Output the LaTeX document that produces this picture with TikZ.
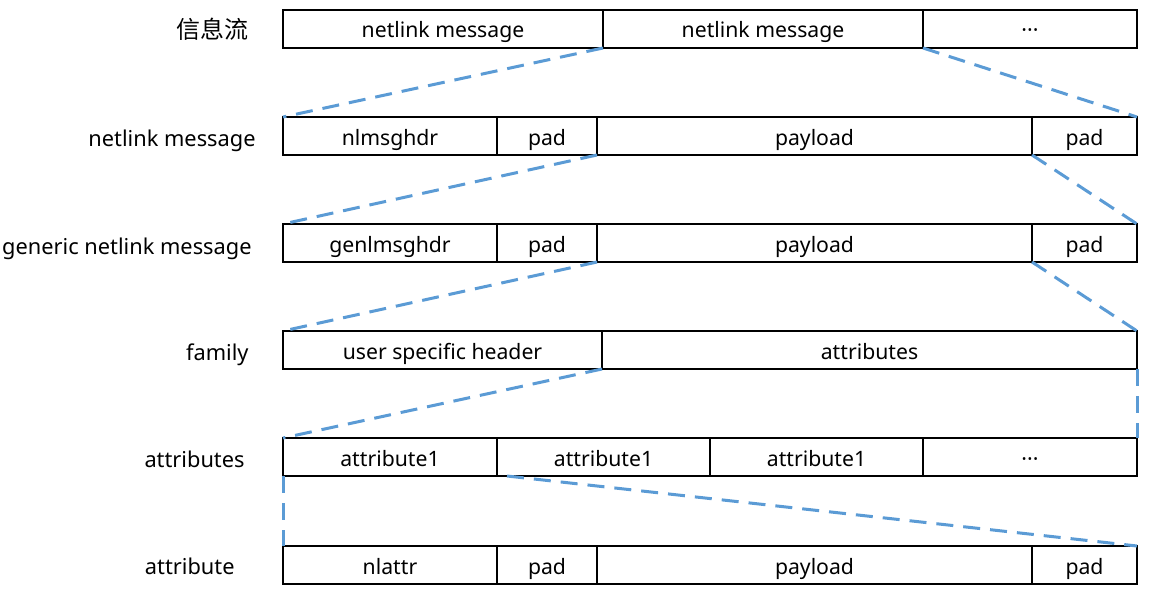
\documentclass[tikz,border=0pt]{standalone}
\usepackage{fontspec}
\setmainfont{Noto Sans}
\newfontfamily\cjk{Noto Sans CJK SC}
\usetikzlibrary{positioning}
\definecolor{linkblue}{HTML}{5B9BD5}

\begin{document}
\begin{tikzpicture}[x=0.5pt,y=-0.5pt,font=\fontsize{10.6}{12}\selectfont,
  cell/.style={draw,line width=0.6pt,minimum height=19pt,inner sep=0pt,outer sep=0pt,
    text height=10pt,text depth=1pt,anchor=west},
  rowlabel/.style={anchor=base east,inner sep=0pt,font=\fontsize{10.9}{12}\selectfont},
  link/.style={draw=linkblue,line width=1.5pt,dash pattern=on 8.5pt off 5pt}]
 \useasboundingbox (0,0) rectangle (1154,599);
 % rows of cells
 \node[cell,minimum width=160pt] (msg1) at (283,29) {netlink message};
 \node[cell,minimum width=160pt,right=0pt of msg1] (msg2) {netlink message};
 \node[cell,minimum width=107pt,right=0pt of msg2] (msg3) {\textperiodcentered\textperiodcentered\textperiodcentered};

 \node[cell,minimum width=107pt] (nlhdr) at (283,136) {nlmsghdr};
 \node[cell,minimum width=50pt,right=0pt of nlhdr] (nlpad) {pad};
 \node[cell,minimum width=217.5pt,right=0pt of nlpad] (nlpay) {payload};
 \node[cell,minimum width=52.5pt,right=0pt of nlpay] (nlpadb) {pad};

 \node[cell,minimum width=107pt] (genhdr) at (283,243) {genlmsghdr};
 \node[cell,minimum width=50pt,right=0pt of genhdr] (genpad) {pad};
 \node[cell,minimum width=217.5pt,right=0pt of genpad] (genpay) {payload};
 \node[cell,minimum width=52.5pt,right=0pt of genpay] (genpadb) {pad};

 \node[cell,minimum width=159.5pt] (famhdr) at (283,350) {user specific header};
 \node[cell,minimum width=267.5pt,right=0pt of famhdr] (famattr) {attributes};

 \node[cell,minimum width=107pt] (attr1) at (283,457) {attribute1};
 \node[cell,minimum width=106.5pt,right=0pt of attr1] (attr2) {attribute1};
 \node[cell,minimum width=106.5pt,right=0pt of attr2] (attr3) {attribute1};
 \node[cell,minimum width=107pt,right=0pt of attr3] (attr4) {\textperiodcentered\textperiodcentered\textperiodcentered};

 \node[cell,minimum width=107pt] (nla) at (283,565) {nlattr};
 \node[cell,minimum width=50pt,right=0pt of nla] (nlapad) {pad};
 \node[cell,minimum width=217.5pt,right=0pt of nlapad] (nlapay) {payload};
 \node[cell,minimum width=52.5pt,right=0pt of nlapay] (nlapadb) {pad};

 % row labels
 \node[anchor=east,inner sep=0pt] (lflow) at (249,29) {\cjk\fontsize{12}{14}\selectfont 信息流};
 \node[rowlabel] (lmsg) at (256,146) {netlink message};
 \node[rowlabel] (lgen) at (252,254) {generic netlink message};
 \node[rowlabel] (lfam) at (249,360) {family};
 \node[rowlabel] (lattrs) at (245,467) {attributes};
 \node[rowlabel] (lattr) at (235,574) {attribute};

 % zoom lines
 \draw[link] (msg1.south east) -- (nlhdr.north west);
 \draw[link] (msg3.south west) -- (nlpadb.north east);
 \draw[link] (nlpay.south west) -- (genhdr.north west);
 \draw[link] (nlpay.south east) -- (genpadb.north east);
 \draw[link] (genpay.south west) -- (famhdr.north west);
 \draw[link] (genpay.south east) -- (famattr.north east);
 \draw[link] (famhdr.south east) -- (attr1.north west);
 \draw[link] (famattr.south east) -- (attr4.north east);
 \draw[link] (attr1.south west) -- (nla.north west);
 \draw[link] ([xshift=5pt]attr1.south east) -- (nlapadb.north east);
\end{tikzpicture}
\end{document}
